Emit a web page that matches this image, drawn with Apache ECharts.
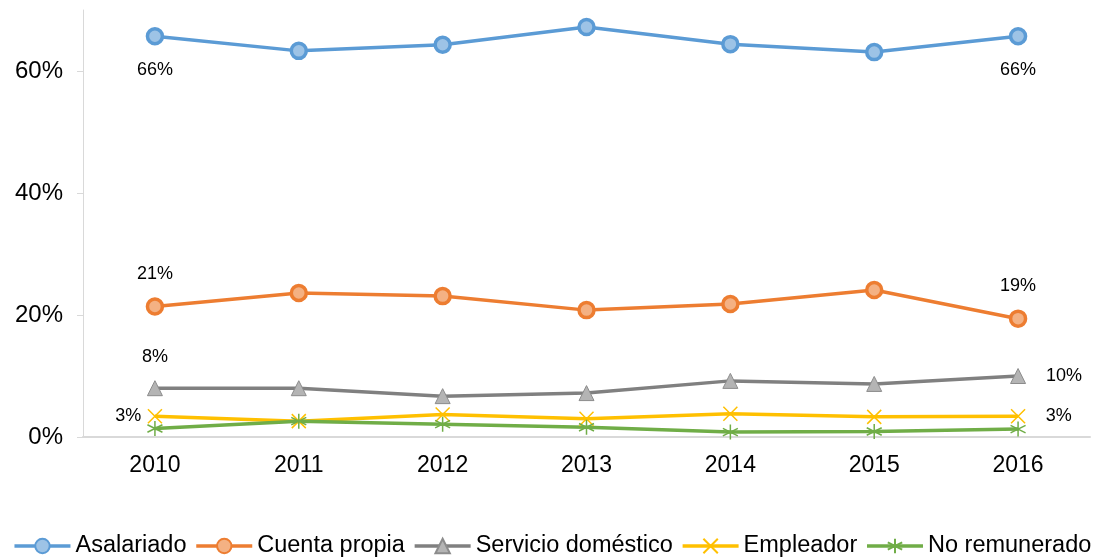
<!DOCTYPE html>
<html>
<head>
<meta charset="utf-8">
<script src="https://cdn.jsdelivr.net/npm/echarts@6/dist/echarts.min.js"></script>
<style>
  html, body { margin: 0; padding: 0; background: #fff; }
  #chart { width: 1104px; height: 558px; }
</style>
</head>
<body>
<div id="chart"></div>
<script>
// datos
var years = ['2010', '2011', '2012', '2013', '2014', '2015', '2016'];
var asalariado = [65.7, 63.3, 64.3, 67.2, 64.4, 63.1, 65.7];
var cuentaPropia = [21.4, 23.6, 23.1, 20.8, 21.8, 24.1, 19.4];
var servicioDomestico = [8.0, 8.0, 6.7, 7.2, 9.2, 8.7, 10.0];
var empleador = [3.4, 2.6, 3.7, 3.0, 3.8, 3.3, 3.4];
var noRemunerado = [1.4, 2.6, 2.1, 1.6, 0.8, 0.9, 1.3];
var yTicks = [0, 20, 40, 60];

var font = '"Liberation Sans", Arial, sans-serif';

// etiquetas solo en el primer y último punto
function withLabels(values, firstPos, lastPos, firstDist, lastDist) {
  return values.map(function (v, i) {
    if (i === 0) return { value: v, label: { show: true, position: firstPos, distance: firstDist } };
    if (i === values.length - 1) return { value: v, label: { show: true, position: lastPos, distance: lastDist } };
    return v;
  });
}

var labelStyle = {
  fontFamily: font,
  fontSize: 18,
  color: '#000',
  formatter: function (p) { return Math.round(p.value) + '%'; }
};

var myChart = echarts.init(document.getElementById('chart'));

var option = {
  animation: false,
  textStyle: { fontFamily: font },
  grid: { left: 83, right: 14, top: 10, bottom: 121, containLabel: false },
  legend: {
    bottom: 0,
    left: 'center',
    width: 1104,
    padding: 0,
    itemWidth: 56,
    itemHeight: 18,
    itemGap: 8,
    lineStyle: { width: 3.5 },
    textStyle: { fontFamily: font, fontSize: 23.5, color: '#000' },
    data: ['Asalariado', 'Cuenta propia', 'Servicio doméstico', 'Empleador', 'No remunerado']
  },
  xAxis: {
    type: 'category',
    data: years,
    boundaryGap: true,
    axisLine: { lineStyle: { color: '#d9d9d9', width: 2 } },
    axisTick: { show: false },
    axisLabel: { fontFamily: font, fontSize: 23, color: '#000', margin: 17 }
  },
  yAxis: {
    type: 'value',
    min: 0,
    max: 70,
    interval: 20,
    splitLine: { show: false },
    axisLine: { show: true, lineStyle: { color: '#d9d9d9', width: 1 } },
    axisTick: { show: true, length: 6, customValues: yTicks, lineStyle: { color: '#d9d9d9' } },
    axisLabel: {
      fontFamily: font, fontSize: 24, color: '#000', margin: 20,
      customValues: yTicks,
      formatter: '{value}%'
    }
  },
  series: [
    {
      name: 'Asalariado',
      type: 'line',
      data: withLabels(asalariado, 'bottom', 'bottom', 16, 16),
      symbol: 'circle',
      symbolSize: 15,
      lineStyle: { color: '#5b9bd5', width: 3.5 },
      itemStyle: { color: '#9dc3e6', borderColor: '#5b9bd5', borderWidth: 3.5 },
      label: labelStyle
    },
    {
      name: 'Cuenta propia',
      type: 'line',
      data: withLabels(cuentaPropia, 'top', 'top', 14, 14),
      symbol: 'circle',
      symbolSize: 15,
      lineStyle: { color: '#ed7d31', width: 3.5 },
      itemStyle: { color: '#f4b183', borderColor: '#ed7d31', borderWidth: 3.5 },
      label: labelStyle
    },
    {
      name: 'Servicio doméstico',
      type: 'line',
      data: withLabels(servicioDomestico, 'top', 'right', 14, 20),
      symbol: 'triangle',
      symbolSize: 15,
      lineStyle: { color: '#808080', width: 3.5 },
      itemStyle: { color: '#b4b4b4', borderColor: '#8c8c8c', borderWidth: 1 },
      label: labelStyle
    },
    {
      name: 'Empleador',
      type: 'line',
      data: withLabels(empleador, 'left', 'right', 6, 20),
      symbol: 'path://M0,0L10,10M10,0L0,10',
      symbolSize: 14,
      lineStyle: { color: '#ffc000', width: 3.5 },
      itemStyle: { color: 'rgba(0,0,0,0)', borderColor: '#ffc000', borderWidth: 1.5 },
      label: labelStyle
    },
    {
      name: 'No remunerado',
      type: 'line',
      data: noRemunerado,
      symbol: 'path://M5,0L5,10M0.7,2.5L9.3,7.5M9.3,2.5L0.7,7.5',
      symbolSize: 15,
      lineStyle: { color: '#70ad47', width: 3.5 },
      itemStyle: { color: 'rgba(0,0,0,0)', borderColor: '#70ad47', borderWidth: 1.5 }
    }
  ]
};

myChart.setOption(option);
</script>
</body>
</html>
